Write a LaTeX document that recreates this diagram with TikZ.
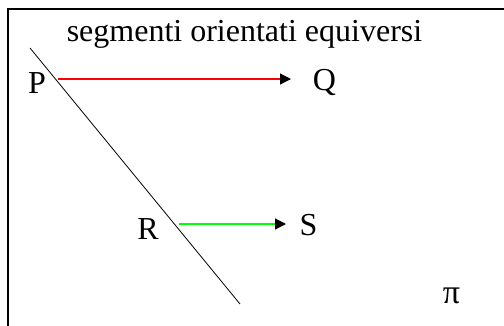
\documentclass[tikz,border=0pt]{standalone}
\usepackage{fontspec}
\setmainfont{Liberation Serif}
\usetikzlibrary{arrows.meta}
\definecolor{segred}{RGB}{255,0,0}
\definecolor{seggreen}{RGB}{0,255,0}
\tikzset{
  lbl/.style={anchor=base,inner sep=0pt,font=\fontsize{32}{32}\selectfont},
  ttl/.style={anchor=base,inner sep=0pt,font=\fontsize{32}{32}\selectfont},
  vec/.style={line width=1.2pt,-{Triangle[length=11pt,width=11pt,color=black]}},
  frame/.style={line width=1.5pt,black},
  diag/.style={line width=0.8pt,black}
}
\begin{document}
\begin{tikzpicture}[x=1pt,y=-1pt]
\useasboundingbox (0,0) rectangle (504,325);
\draw[frame] (8,330) -- (8,9) -- (510,9);
\node[ttl] (title) at (244.5,41) {segmenti orientati equiversi};
\coordinate (d1) at (30,48);
\coordinate (d2) at (240,304);
\draw[diag] (d1) -- (d2);
\node[lbl] (P) at (37,93) {P};
\node[lbl] (Q) at (324.5,90) {Q};
\node[lbl] (R) at (148,239) {R};
\node[lbl] (S) at (308.5,235) {S};
\node[lbl,font=\fontsize{34}{34}\selectfont] (pi) at (451.5,303) {π};
\coordinate (p0) at (58,79);
\coordinate (q0) at (291,79);
\coordinate (r0) at (179,224);
\coordinate (s0) at (286,224);
\draw[vec,segred] (p0) -- (q0);
\draw[vec,seggreen] (r0) -- (s0);
\end{tikzpicture}
\end{document}
